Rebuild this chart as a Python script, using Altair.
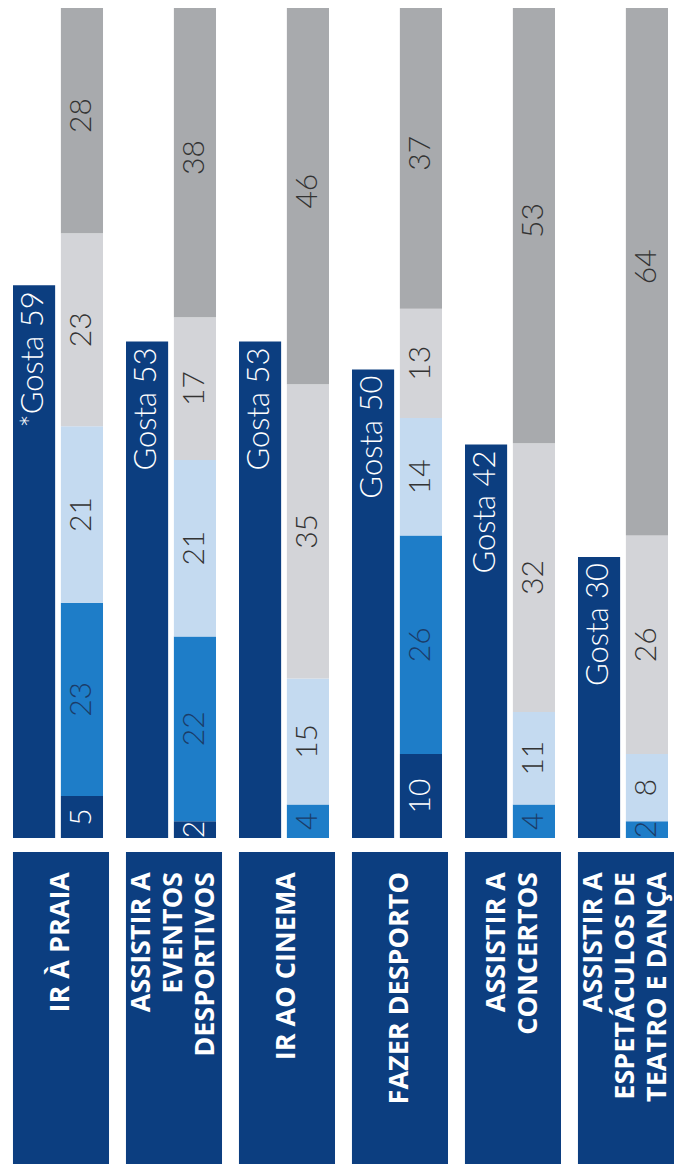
import altair as alt
import pandas as pd

# ---- data ----
categories = [
    "IR À PRAIA",
    "ASSISTIR A EVENTOS DESPORTIVOS",
    "IR AO CINEMA",
    "FAZER DESPORTO",
    "ASSISTIR A CONCERTOS",
    "ASSISTIR A ESPETÁCULOS DE TEATRO E DANÇA",
]
label_text = [
    "IR À PRAIA",
    "ASSISTIR A\nEVENTOS\nDESPORTIVOS",
    "IR AO CINEMA",
    "FAZER DESPORTO",
    "ASSISTIR A\nCONCERTOS",
    "ASSISTIR A\nESPETÁCULOS DE\nTEATRO E DANÇA",
]
gosta = [59, 53, 53, 50, 42, 30]
gosta_prefix = ["*", "", "", "", "", ""]

series = ["Muito frequentemente", "Frequentemente", "Às vezes", "Raramente", "Nunca"]
seg_navy = [5, 2, 0, 10, 0, 0]
seg_blue = [23, 22, 4, 26, 4, 2]
seg_lightblue = [21, 21, 15, 14, 11, 8]
seg_lightgray = [23, 17, 35, 13, 32, 26]
seg_gray = [28, 38, 46, 37, 53, 64]
segments = [seg_navy, seg_blue, seg_lightblue, seg_lightgray, seg_gray]

NAVY = "#0c3e80"
colors = [NAVY, "#1e7dc8", "#c4daf0", "#d3d4d8", "#a8aaad"]

# ---- tables ----
gdf = pd.DataFrame({
    "cat": categories,
    "grp": "Gosta",
    "value": gosta,
    "label": [p + "Gosta " + str(v) for p, v in zip(gosta_prefix, gosta)],
})
rows = []
for j, (s, vals) in enumerate(zip(series, segments)):
    for c, v in zip(categories, vals):
        rows.append({"cat": c, "grp": "Stack", "series": s, "idx": j, "value": v})
sdf = pd.DataFrame(rows)
ldf = pd.DataFrame({
    "cat": categories,
    "text": label_text,
    "nlines": [t.count("\n") + 1 for t in label_text],
})

W = 666

# ---- top panel ----
x_top = alt.X("cat:N", sort=categories, axis=None,
              scale=alt.Scale(paddingInner=0.2035, paddingOuter=0.0487, align=0.455))
xo = alt.XOffset("grp:N", scale=alt.Scale(domain=["Gosta", "Stack"], paddingInner=0.12, paddingOuter=0))
gosta_y = alt.Y("value:Q", axis=None, scale=alt.Scale(domain=[0, 88.6]))
stack_scale = alt.Scale(domain=[0, 98.8], clamp=True)

gb = alt.Chart(gdf).mark_bar(color=NAVY).encode(x=x_top, xOffset=xo, y=gosta_y)
gt = alt.Chart(gdf).mark_text(
    angle=270, align="right", baseline="middle", dx=-6,
    font="Lato", fontSize=31, fontWeight=300, color="white"
).encode(x=x_top, xOffset=xo, y=gosta_y, text="label:N")

stacked = alt.Chart(sdf).transform_stack(
    stack="value", groupby=["cat"], as_=["y0", "y1"],
    sort=[alt.SortField("idx", order="ascending")]
)
sb = stacked.mark_bar().encode(
    x=x_top, xOffset=xo,
    y=alt.Y("y0:Q", axis=None, scale=stack_scale), y2="y1:Q",
    color=alt.Color("series:N", scale=alt.Scale(domain=series, range=colors), legend=None),
)
st = stacked.transform_filter("datum.value > 0").transform_calculate(
    mid="(datum.y0 + datum.y1) / 2"
).mark_text(
    angle=270, align="center", baseline="middle",
    font="Lato", fontSize=30, fontWeight=300
).encode(
    x=x_top, xOffset=xo,
    y=alt.Y("mid:Q", axis=None, scale=stack_scale),
    text="value:Q",
    color=alt.when(alt.datum.idx == 0).then(alt.value("white"))
             .when(alt.datum.idx == 1).then(alt.value("#1b3c68"))
             .otherwise(alt.value("#333333")),
)

top = alt.layer(alt.layer(gb, gt), alt.layer(sb, st)).resolve_scale(y="independent").properties(
    width=W, height=830
)

# ---- bottom panel (label boxes) ----
x_bot = alt.X("cat:N", sort=categories, axis=None,
              scale=alt.Scale(paddingInner=0.150, paddingOuter=0.022, align=1))
boxes = alt.Chart(ldf).mark_rect(color=NAVY).encode(x=x_bot)
LH = 32
text_layers = []
for n in (1, 2, 3):
    text_layers.append(
        alt.Chart(ldf).transform_filter(alt.datum.nlines == n).mark_text(
            angle=270, align="right", baseline="middle", dx=-20, dy=-(n - 1) * LH / 2,
            lineBreak="\n", font="Open Sans", fontSize=27, fontWeight="bold",
            color="white", lineHeight=LH
        ).encode(x=x_bot, y=alt.value(0), text="text:N")
    )
bottom = alt.layer(boxes, *text_layers).properties(width=W, height=312)

chart = alt.vconcat(top, bottom, spacing=13).properties(padding=0).configure_view(stroke=None)

chart.save("out.html", embed_options={"renderer": "svg", "actions": False})
